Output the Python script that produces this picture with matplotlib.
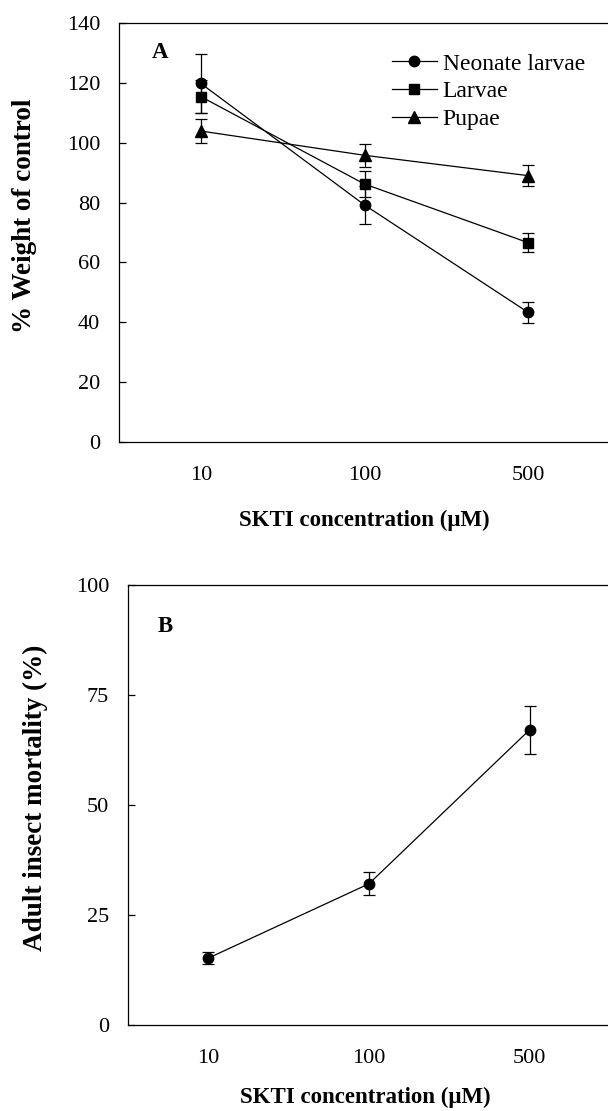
import matplotlib
matplotlib.use("Agg")
import matplotlib.pyplot as plt
from matplotlib.lines import Line2D

plt.rcParams['font.family'] = ['Liberation Serif', 'DejaVu Serif']

# Data
concentrations = ["10", "100", "500"]
neonate = [119.8, 79.2, 43.3]
neonate_err = [10.0, 6.2, 3.4]
larvae = [115.4, 86.2, 66.6]
larvae_err = [5.5, 4.2, 3.1]
pupae = [103.9, 95.8, 89.0]
pupae_err = [3.9, 3.8, 3.5]
mortality = [15.2, 32.1, 67.1]
mortality_err = [1.3, 2.6, 5.4]

fig = plt.figure(figsize=(6.08, 11.11), dpi=100)
W, H = 608, 1111

def axes_px(l, t, r, b):
    return fig.add_axes([l / W, 1 - b / H, (r - l) / W, (b - t) / H])

axA = axes_px(119, 23, 610, 442)
axB = axes_px(128, 585, 610, 1025)

x = list(range(len(concentrations)))
common = dict(color='black', lw=0.9, capsize=4.3, capthick=0.9, elinewidth=0.9)

axA.errorbar(x, neonate, yerr=neonate_err, marker='o', ms=7.5, label='Neonate larvae', **common)
axA.errorbar(x, larvae, yerr=larvae_err, marker='s', ms=7, label='Larvae', **common)
axA.errorbar(x, pupae, yerr=pupae_err, marker='^', ms=8, label='Pupae', **common)
axB.errorbar(x, mortality, yerr=mortality_err, marker='o', ms=7.5, **common)

for ax in (axA, axB):
    ax.set_xlim(-0.5, 2.5)
    ax.set_xticks(x)
    ax.set_xticklabels(concentrations)
    ax.spines['right'].set_visible(False)
    for s in ('left', 'top', 'bottom'):
        ax.spines[s].set_linewidth(0.9)
    ax.tick_params(axis='x', length=0, pad=17, labelsize=16)
    ax.tick_params(axis='y', direction='in', length=5, width=0.9, pad=13.5, labelsize=16)

axA.set_ylim(0, 140)
axA.set_yticks(range(0, 141, 20))
axB.set_ylim(0, 100)
axB.set_yticks(range(0, 101, 25))

axA.text(0.084, 0.93, 'A', transform=axA.transAxes, fontsize=16.5, fontweight='bold', ha='center', va='center')
axB.text(0.077, 0.906, 'B', transform=axB.transAxes, fontsize=16.5, fontweight='bold', ha='center', va='center')

handles = [Line2D([], [], color='black', lw=0.9, marker=m, ms=s) for m, s in (('o', 7.5), ('s', 7), ('^', 8))]
axA.legend(handles, ['Neonate larvae', 'Larvae', 'Pupae'], loc='upper left',
           bbox_to_anchor=((392 - 119) / 491, (442 - 53) / 419), frameon=False,
           fontsize=17, handlelength=1.9, handletextpad=0.25, labelspacing=0.26,
           borderpad=0, borderaxespad=0)

fig.text(25 / W, 1 - 216 / H, '% Weight of control', rotation=90, ha='center', va='center',
         fontsize=19.5, fontweight='bold')
fig.text(35 / W, 1 - 798 / H, 'Adult insect mortality (%)', rotation=90, ha='center', va='center',
         fontsize=19.5, fontweight='bold')
fig.text(364 / W, 1 - 520 / H, 'SKTI concentration (μM)', ha='center', va='center',
         fontsize=16.5, fontweight='bold')
fig.text(365 / W, 1 - 1097 / H, 'SKTI concentration (μM)', ha='center', va='center',
         fontsize=16.5, fontweight='bold')

fig.savefig('out.png', dpi=100)
